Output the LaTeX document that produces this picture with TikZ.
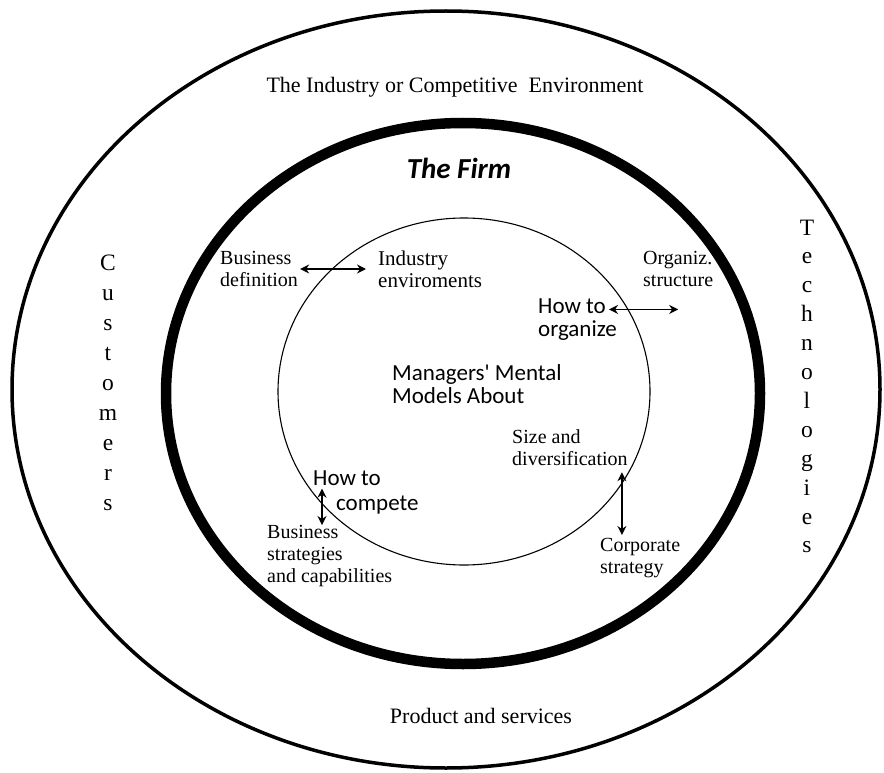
\documentclass[tikz,border=0pt]{standalone}
\usepackage{fontspec}
\setmainfont{Liberation Serif}
\newfontfamily\calfont{Carlito}
\usetikzlibrary{positioning,arrows.meta}
\tikzset{
semithick, % All lines semithick
>={Stealth[length=9pt,width=9pt]}, % All arrows with stealth tick
serif label/.style={font=\fontsize{20}{22}\selectfont,align=left,inner sep=0pt,anchor=west},
sans label/.style={font=\calfont\fontsize{23}{23}\selectfont,align=left,inner sep=0pt,anchor=west},
ring label/.style={font=\fontsize{22}{22}\selectfont,inner sep=0pt},
side letter/.style={font=\fontsize{23.5}{23.5}\selectfont,inner sep=0pt,anchor=base},
link/.style={<->,line width=1.5pt},
}

\begin{document}
\begin{tikzpicture}[x=1pt,y=-1pt]
\useasboundingbox (0,0) rectangle (884,773);
% the three rings
\draw[line width=3.5pt] (446,389.5) ellipse [x radius=434,y radius=378.5];
\draw[line width=10.5pt] (463,393.5) ellipse [x radius=297,y radius=270.5];
\draw[line width=1.1pt] (464,391.5) ellipse [x radius=186,y radius=173.5];
% outer ring
\node[ring label] (env) at (455,87) {The Industry or Competitive~~Environment};
\node[ring label] (prod) at (481,716) {Product and services};
\foreach \l [count=\i from 0] in {C,u,s,t,o,m,e,r,s}
  \node[side letter] (cust\i) at (108,270+30*\i) {\l};
\foreach \l [count=\i from 0] in {T,e,c,h,n,o,l,o,g,i,e,s}
  \node[side letter] (tech\i) at (807,235+28.9*\i) {\l};
% the firm
\node[font=\calfont\bfseries\itshape\fontsize{29}{29}\selectfont] (firm) at (459,168) {The Firm};
\node[serif label] (bizdef) at (220,269) {Business\\definition};
\node[serif label,font=\fontsize{21}{22}\selectfont] (indenv) at (378,269) {Industry\\enviroments};
\node[serif label] (orgstr) at (643,269) {Organiz.\\structure};
\node[sans label] (howorg) at (538,320) {How to\\organize};
\node[sans label] (mental) at (392,384) {Managers' Mental\\Models About};
\node[serif label] (sizediv) at (512,448) {Size and\\diversification};
\node[serif label] (corpstr) at (600,558) {Corporate\\strategy};
\node[sans label] (howto) at (313,478) {How to};
\node[sans label] (compete) at (336,505) {compete};
\node[serif label] (bizstr) at (267,556) {Business\\strategies\\and capabilities};
% links
\draw[link,shorten <=2pt,shorten >=12pt] (bizdef.east) -- (indenv.west);
\draw[link] ([xshift=-8pt,yshift=-10.5pt]howorg.north east) coordinate (ho) -- (orgstr.south |- ho);
\draw[link] ([xshift=9pt,yshift=-3pt]howto.south west) coordinate (ct) -- (ct |- bizstr.north);
\draw[link] ([xshift=-6pt,yshift=-6pt]sizediv.south east) coordinate (sd) -- ([yshift=3pt]sd |- corpstr.north);
\end{tikzpicture}
\end{document}
